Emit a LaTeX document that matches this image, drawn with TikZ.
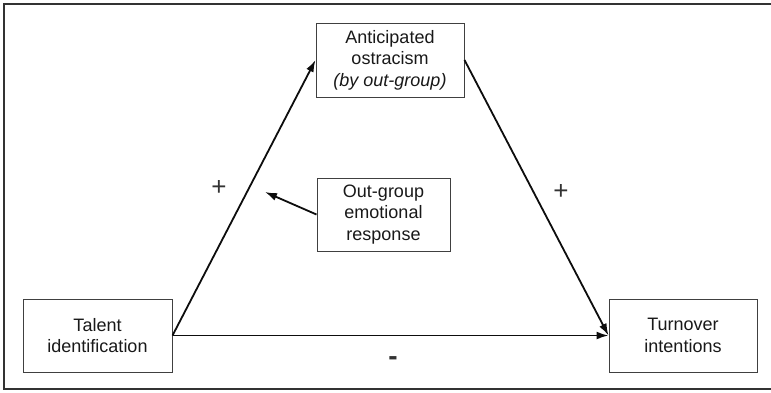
\documentclass[tikz,border=0pt]{standalone}
\usepackage{fontspec}
\setmainfont{Liberation Sans}
\usetikzlibrary{arrows.meta}
\begin{document}
\begin{tikzpicture}[x=1pt,y=-1pt,
  box/.style={draw=black!75, line width=1pt, fill=white, align=center, font=\fontsize{18}{21.5}\selectfont, text=black!90, inner sep=0pt},
  conn/.style={line width=1.8pt, black!95, -{Latex[length=12pt,width=8pt]}},
  sign/.style={font=\fontsize{26}{26}\selectfont, text=black!80}]
\useasboundingbox (0,0) rectangle (771,392);
\draw[line width=2pt, black!80] (771,4) -- (4,4) -- (4,389) -- (771,389);
\node[box, minimum width=148pt, minimum height=74pt] (ant) at (390,60) {Anticipated\\ostracism\\\textit{(by out-group)}};
\node[box, minimum width=133pt, minimum height=73pt] (emo) at (383.5,214.5) {Out-group\\emotional\\response};
\node[box, minimum width=149pt, minimum height=73pt] (tal) at (97.5,335.5) {Talent\\identification};
\node[box, minimum width=148pt, minimum height=73pt] (tur) at (683,335.5) {Turnover\\intentions};
\coordinate (tip) at (265,192);
\draw[conn] (tal.east) -- (ant.west);
\draw[conn] (ant.east) -- (tur.west);
\draw[conn] (tal.east) -- (tur.west);
\draw[conn] (emo.west) -- (tip);
\node[sign] (p1) at (219,188) {+};
\node[sign] (p2) at (561,192) {+};
\node[sign, font=\fontsize{28}{28}\selectfont\bfseries] (m1) at (393,361) {-};
\end{tikzpicture}
\end{document}
